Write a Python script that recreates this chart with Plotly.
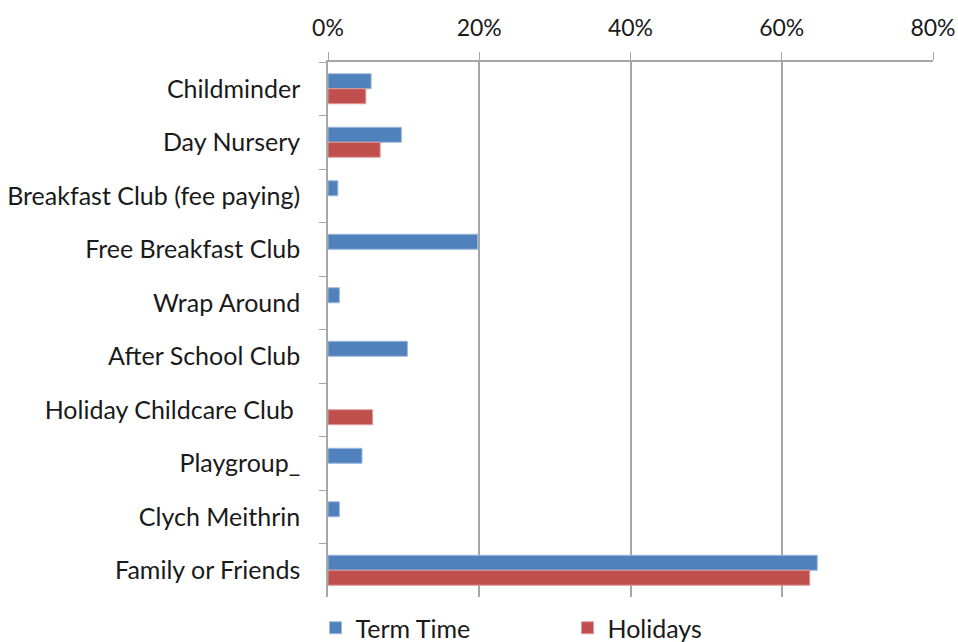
import plotly.graph_objects as go

categories = ["Childminder", "Day Nursery", "Breakfast Club (fee paying)", "Free Breakfast Club",
              "Wrap Around", "After School Club", "Holiday Childcare Club ", "Playgroup_",
              "Clych Meithrin", "Family or Friends"]
term_time = [0.057, 0.097, 0.013, 0.198, 0.015, 0.105, None, 0.045, 0.015, 0.647]
holidays = [0.050, 0.069, None, None, None, None, 0.059, None, None, 0.637]
tick_vals = [0, 0.2, 0.4, 0.6, 0.8]
tick_text = ["0%", "20%", "40%", "60%", "80%"]

FONT = "Lato"
fig = go.Figure()
fig.add_trace(go.Bar(y=categories, x=term_time, orientation="h", name="Term Time",
                     marker=dict(color="#4F81BD", line=dict(color="#9DB8DE", width=1))))
fig.add_trace(go.Bar(y=categories, x=holidays, orientation="h", name="Holidays",
                     marker=dict(color="#C0504D", line=dict(color="#E09A98", width=1))))

fig.update_layout(
    width=958, height=642,
    margin=dict(l=328, r=25, t=62, b=45),
    paper_bgcolor="white", plot_bgcolor="white",
    barmode="group", bargap=0.44, bargroupgap=0,
    font=dict(family=FONT, size=25, color="#1a1a1a"),
    showlegend=True,
    legend=dict(orientation="h", xref="container", yref="container",
                x=0.3293, xanchor="left", y=0.0218, yanchor="middle",
                font=dict(family=FONT, size=25), entrywidth=207, entrywidthmode="pixels",
                traceorder="normal", bgcolor="rgba(0,0,0,0)"),
    xaxis=dict(side="top", range=[0, 0.8], tickvals=tick_vals, ticktext=tick_text,
               tickfont=dict(size=23),
               showgrid=True, gridcolor="#A6A6A6", gridwidth=1.5,
               showline=True, linecolor="#A6A6A6", linewidth=1.5,
               ticks="outside", ticklen=8, tickcolor="#A6A6A6", ticklabelstandoff=7,
               zeroline=False, fixedrange=True, automargin=False),
    yaxis=dict(autorange="reversed", type="category",
               showline=True, linecolor="#A6A6A6", linewidth=1.5,
               ticks="outside", ticklen=7, tickcolor="#A6A6A6", tickson="boundaries",
               ticklabelstandoff=21, showgrid=False, fixedrange=True, automargin=False),
)
fig.write_html("out.html", config={"displayModeBar": False},
               post_script="document.body.style.margin='0';document.body.style.overflow='hidden';")
